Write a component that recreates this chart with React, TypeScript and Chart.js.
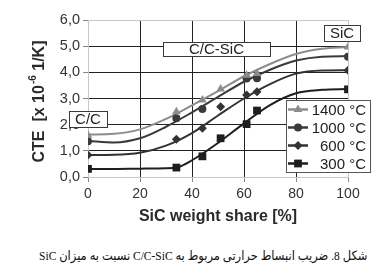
import React, { useEffect, useRef } from 'react';
import { Chart, registerables } from 'chart.js';

Chart.register(...registerables);

// ---- data ----
const seriesLabels = ['1400 °C', '1000 °C', '600 °C', '300 °C'];

// measured points (markers)
const x1400 = [0, 34, 44, 51, 61, 65, 100];
const y1400 = [1.6, 2.49, 2.94, 3.36, 3.89, 3.96, 4.97];
const x1000 = [0, 34, 44, 61, 65, 100];
const y1000 = [1.37, 2.25, 2.6, 3.76, 3.77, 4.6];
const x600 = [0, 34, 44, 51, 61, 65, 100];
const y600 = [0.84, 1.44, 1.86, 2.68, 3.13, 3.26, 4.08];
const x300 = [0, 34, 44, 51, 61, 65, 100];
const y300 = [0.31, 0.36, 0.79, 1.48, 2.02, 2.54, 3.35];

// fitted curves
const fitX = [0, 10, 20, 30, 40, 50, 60, 70, 80, 90, 100];
const fit1400 = [1.62, 1.65, 1.82, 2.22, 2.74, 3.28, 3.85, 4.32, 4.7, 4.9, 4.97];
const fit1000 = [1.38, 1.32, 1.48, 1.92, 2.47, 3.06, 3.64, 4.1, 4.45, 4.6, 4.62];
const fit600 = [0.84, 0.85, 0.93, 1.2, 1.68, 2.35, 3.0, 3.55, 3.95, 4.07, 4.08];
const fit300X = [0, 10, 20, 30, 34, 40, 50, 60, 70, 80, 90, 100];
const fit300 = [0.31, 0.31, 0.32, 0.33, 0.36, 0.64, 1.3, 2.05, 2.75, 3.2, 3.33, 3.36];

const xTicks = [0, 20, 40, 60, 80, 100];
const yTicks = [0, 1, 2, 3, 4, 5, 6];

const regionLabels = ['C/C', 'C/C-SiC', 'SiC'];

const caption = 'شکل 8. ضریب انبساط حرارتی مربوط به C/C-SiC نسبت به میزان SiC';

// ---- styles ----
const lineColors = ['#8c8c8c', '#3a3a3a', '#333333', '#1e1e1e'];
const pointStyles = ['triangle', 'circle', 'rectRot', 'rect'];
const pointRadii = [5, 4, 4.5, 5.5];
const FONT = '"Liberation Sans", Arial, Helvetica, sans-serif';
const CAPTION_WIDTH = 328;

const pts = (xs: number[], ys: number[]) => xs.map((v, i) => ({ x: v, y: ys[i] }));

const markerX = [x1400, x1000, x600, x300];
const markerY = [y1400, y1000, y600, y300];
const curveX = [fitX, fitX, fitX, fit300X];
const curveY = [fit1400, fit1000, fit600, fit300];

// region box extents in data units
const regionBoxes = [
  { text: regionLabels[0], x1: -7.3, x2: 7.3, y1: 1.91, y2: 2.52 },
  { text: regionLabels[1], x1: 28.8, x2: 70, y1: 4.62, y2: 5.15 },
  { text: regionLabels[2], x1: 90.8, x2: 104.6, y1: 5.19, y2: 5.8 },
];

function drawMarker(ctx: CanvasRenderingContext2D, style: string, r: number, x: number, y: number) {
  ctx.beginPath();
  if (style === 'circle') {
    ctx.arc(x, y, r, 0, Math.PI * 2);
  } else if (style === 'triangle') {
    for (let k = 0; k < 3; k++) {
      const a = (k * 2 * Math.PI) / 3;
      const px = x + Math.sin(a) * r;
      const py = y - Math.cos(a) * r;
      if (k === 0) ctx.moveTo(px, py);
      else ctx.lineTo(px, py);
    }
    ctx.closePath();
  } else if (style === 'rectRot') {
    ctx.moveTo(x, y - r);
    ctx.lineTo(x + r, y);
    ctx.lineTo(x, y + r);
    ctx.lineTo(x - r, y);
    ctx.closePath();
  } else {
    const s = Math.SQRT1_2 * r;
    ctx.rect(x - s, y - s, 2 * s, 2 * s);
  }
  ctx.fill();
}

const overlayPlugin = {
  id: 'overlay',
  beforeDatasetsDraw(chart: any) {
    const { ctx, scales } = chart;
    const xs = scales.x;
    const ys = scales.y;
    ctx.save();
    ctx.font = `15px ${FONT}`;
    ctx.textAlign = 'center';
    ctx.textBaseline = 'middle';
    for (const b of regionBoxes) {
      const l = Math.round(xs.getPixelForValue(b.x1));
      const r = Math.round(xs.getPixelForValue(b.x2));
      const t = Math.round(ys.getPixelForValue(b.y2));
      const bt = Math.round(ys.getPixelForValue(b.y1));
      ctx.fillStyle = '#ffffff';
      ctx.fillRect(l, t, r - l, bt - t);
      ctx.strokeStyle = '#3a3a3a';
      ctx.lineWidth = 1;
      ctx.strokeRect(l + 0.5, t + 0.5, r - l, bt - t);
      ctx.fillStyle = '#222';
      ctx.fillText(b.text, (l + r) / 2, (t + bt) / 2 + 1);
    }
    ctx.restore();
  },
  afterDatasetsDraw(chart: any) {
    const { ctx, chartArea } = chart;
    // legend box
    const lx = Math.round(chartArea.right - 62);
    const ly = Math.round(chartArea.top + 80);
    const lw = 84;
    const lh = 72;
    ctx.save();
    ctx.fillStyle = '#ffffff';
    ctx.fillRect(lx, ly, lw, lh);
    ctx.strokeStyle = '#555';
    ctx.lineWidth = 1;
    ctx.strokeRect(lx + 0.5, ly + 0.5, lw, lh);
    ctx.font = `15px ${FONT}`;
    ctx.textAlign = 'right';
    ctx.textBaseline = 'middle';
    seriesLabels.forEach((lab, i) => {
      const yy = ly + 9.5 + i * 18;
      ctx.strokeStyle = lineColors[i];
      ctx.lineWidth = 2.5;
      ctx.beginPath();
      ctx.moveTo(lx + 2, yy);
      ctx.lineTo(lx + 22, yy);
      ctx.stroke();
      ctx.fillStyle = lineColors[i];
      drawMarker(ctx, pointStyles[i], pointRadii[i], lx + 12, yy);
      ctx.fillStyle = '#222';
      ctx.fillText(lab, lx + lw - 4, yy + 1);
    });
    ctx.restore();
  },
  afterDraw(chart: any) {
    const { ctx, chartArea } = chart;
    // y-axis title with superscript
    const cx = chartArea.left - 48;
    const cy = (chartArea.top + chartArea.bottom) / 2 + 3;
    const p1 = 'CTE  [x 10';
    const sup = '-6';
    const p2 = ' 1/K]';
    ctx.save();
    ctx.fillStyle = '#2a2a2a';
    ctx.textBaseline = 'middle';
    ctx.textAlign = 'left';
    const mainFont = `bold 16px ${FONT}`;
    const supFont = `bold 10px ${FONT}`;
    ctx.font = mainFont;
    const w1 = ctx.measureText(p1).width;
    const w3 = ctx.measureText(p2).width;
    ctx.font = supFont;
    const w2 = ctx.measureText(sup).width + 1;
    const total = w1 + w2 + w3;
    ctx.translate(cx, cy);
    ctx.rotate(-Math.PI / 2);
    let x0 = -total / 2;
    ctx.font = mainFont;
    ctx.fillText(p1, x0, 0);
    x0 += w1;
    ctx.font = supFont;
    ctx.fillText(sup, x0 + 1, -7);
    x0 += w2;
    ctx.font = mainFont;
    ctx.fillText(p2, x0, 0);
    ctx.restore();
  },
};

export default function App() {
  const ref = useRef<HTMLCanvasElement>(null);
  const capRef = useRef<HTMLDivElement>(null);

  useEffect(() => {
    const cap = capRef.current;
    if (cap) {
      const w = cap.scrollWidth;
      if (w > 0) cap.style.transform = `scaleX(${CAPTION_WIDTH / w})`;
    }
    if (!ref.current) return;
    Chart.defaults.font.family = FONT;

    const markerSets = seriesLabels.map((lab, i) => ({
      label: lab,
      data: pts(markerX[i], markerY[i]),
      showLine: false,
      pointStyle: pointStyles[i] as any,
      pointRadius: pointRadii[i],
      pointBackgroundColor: lineColors[i],
      pointBorderColor: lineColors[i],
      pointBorderWidth: 0,
    }));
    const curveSets = seriesLabels.map((lab, i) => ({
      label: lab + ' fit',
      data: pts(curveX[i], curveY[i]),
      showLine: true,
      borderColor: lineColors[i],
      borderWidth: 2,
      pointRadius: 0,
      cubicInterpolationMode: 'monotone' as const,
      fill: false,
    }));

    const chart = new Chart(ref.current, {
      type: 'scatter',
      data: { datasets: [...markerSets, ...curveSets] as any },
      options: {
        responsive: false,
        animation: false,
        layout: { padding: { left: 0, right: 43, top: 20, bottom: 0 } },
        plugins: {
          legend: { display: false },
          tooltip: { enabled: false },
          title: { display: false },
        },
        scales: {
          x: {
            type: 'linear',
            min: 0,
            max: 100,
            afterFit: (s: any) => {
              s.height = 58;
            },
            afterBuildTicks: (s: any) => {
              s.ticks = xTicks.map((v) => ({ value: v }));
            },
            ticks: {
              font: { size: 14 },
              color: '#333',
              padding: 4,
              maxRotation: 0,
            },
            grid: {
              color: (c: any) => (c.tick && (c.tick.value === 0 || c.tick.value === 100) ? '#c8c8c8' : '#222'),
              tickColor: '#888',
              tickLength: 5,
              lineWidth: 1,
            },
            border: { display: true, color: '#c8c8c8' },
            title: {
              display: true,
              text: 'SiC weight share [%]',
              font: { size: 16, weight: 'bold' },
              color: '#2a2a2a',
              padding: { top: 0, bottom: 9 },
            },
          },
          y: {
            type: 'linear',
            min: 0,
            max: 6,
            afterFit: (s: any) => {
              s.width = 88;
            },
            afterBuildTicks: (s: any) => {
              s.ticks = yTicks.map((v) => ({ value: v }));
            },
            ticks: {
              font: { size: 14.5 },
              color: '#333',
              padding: 3,
              callback: (v: any) => Number(v).toFixed(1).replace('.', ','),
            },
            grid: {
              color: (c: any) => (c.tick && (c.tick.value === 0 || c.tick.value === 6) ? '#c8c8c8' : '#222'),
              tickColor: '#888',
              tickLength: 5,
              lineWidth: 1,
            },
            border: { display: true, color: '#c8c8c8' },
            title: { display: false },
          },
        },
      },
      plugins: [overlayPlugin],
    });

    return () => chart.destroy();
  }, []);

  return (
    <div style={{ position: 'fixed', left: 0, top: 0, width: 391, height: 275, background: '#fff', overflow: 'hidden' }}>
      <canvas ref={ref} width={391} height={235} style={{ position: 'absolute', left: 0, top: 0, width: 391, height: 235 }} />
      <div
        ref={capRef}
        dir="rtl"
        style={{
          position: 'absolute',
          right: 24,
          top: 247,
          fontSize: 13,
          lineHeight: '18px',
          fontFamily: '"Liberation Serif", "DejaVu Sans", serif',
          whiteSpace: 'nowrap',
          color: '#111',
          transformOrigin: 'right center',
        }}
      >
        {caption}
      </div>
    </div>
  );
}
